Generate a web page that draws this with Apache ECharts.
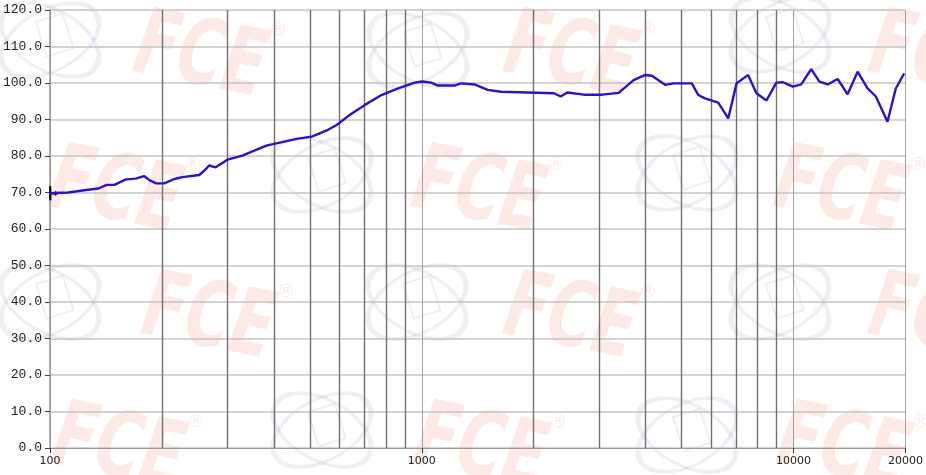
<!DOCTYPE html>
<html>
<head>
<meta charset="utf-8">
<script src="https://cdn.jsdelivr.net/npm/echarts@6/dist/echarts.min.js"></script>
<style>
html,body{margin:0;padding:0;background:#fff;}
#chart{width:926px;height:475px;}
</style>
</head>
<body>
<div id="chart"></div>
<script>
// Frequency (Hz) and SPL (dB)
const freqs = [100,112,125,135,142,149,160,170,179,185,193,203,216,227,252,260,268,279,300,329,357,384,421,461,506,555,590,635,703,779,864,957,1003,1060,1105,1224,1276,1385,1504,1633,1924,2268,2363,2463,2729,3056,3385,3712,3991,4159,4514,4753,5323,5544,5777,6271,6671,7025,7544,7945,8454,8989,9363,9957,10486,11154,11738,12353,13138,13975,14866,15809,16649,17886,18833,19826];
const spl = [69.8,70.0,70.7,71.1,72.1,72.1,73.6,73.8,74.5,73.4,72.5,72.5,73.7,74.2,74.8,76.0,77.4,76.9,79.0,80.1,81.6,82.9,83.8,84.7,85.3,87.0,88.5,91.0,94.0,96.7,98.5,100.1,100.4,100.1,99.3,99.3,99.9,99.6,98.1,97.6,97.4,97.2,96.3,97.4,96.8,96.8,97.3,100.8,102.2,102.0,99.5,99.9,99.9,96.7,95.8,94.6,90.3,99.9,102.2,97.2,95.2,100.1,100.2,99.0,99.6,103.8,100.4,99.6,101.1,96.9,103.1,98.5,96.3,89.4,98.5,102.6];
// Minor vertical grid frequencies
const minorFreqs = [200,300,400,500,600,700,800,900,2000,3000,4000,5000,6000,7000,8000,9000];
const xMin = 100, xMax = 20000;
const yMin = 0, yMax = 120, yStep = 10;

const chart = echarts.init(document.getElementById('chart'), null, {renderer:'canvas'});

// Decorative watermarks
const fcePos = [[200,60],[570,60],[935,60],[115,195],[478,195],[840,195],[208,322],[570,322],[935,322],[118,452],[480,452],[843,452]];
const atomPos = [[50,40],[418,50],[780,35],[322,175],[687,173],[50,302],[417,302],[780,302],[322,430],[687,435]];
const graphics = [];
atomPos.forEach(p => {
  [0.5,-0.5].forEach(r => {
    graphics.push({type:'circle', x:p[0], y:p[1], rotation:r, scaleX:1.4, scaleY:0.8, z:-5, silent:true,
      shape:{cx:0,cy:0,r:38}, style:{fill:'none', stroke:'rgba(110,120,175,0.12)', lineWidth:4}});
  });
  graphics.push({type:'rect', x:p[0]-14, y:p[1]-18, rotation:0.3, z:-5, silent:true,
    shape:{x:0,y:0,width:28,height:36}, style:{fill:'none', stroke:'rgba(110,120,175,0.12)', lineWidth:2}});
});
fcePos.forEach(p => {
  graphics.push({type:'text', x:p[0], y:p[1], rotation:-0.2, scaleX:0.68, z:-4, silent:true,
    style:{text:'FCE', font:'italic bold 92px "DejaVu Sans"', fill:'rgba(240,110,90,0.15)', textAlign:'center', textVerticalAlign:'middle'}});
  graphics.push({type:'text', x:p[0]+78, y:p[1]-30, z:-4, silent:true,
    style:{text:'®', font:'18px "DejaVu Sans"', fill:'rgba(240,110,90,0.15)', textAlign:'center', textVerticalAlign:'middle'}});
});

const option = {
  animation: false,
  backgroundColor: '#fff',
  graphic: graphics,
  grid: {left:47, right:20, top:10, bottom:27, containLabel:false},
  xAxis: {
    type:'log', logBase:10, min:xMin, max:xMax,
    axisLine:{show:true, lineStyle:{color:'#999', width:1}},
    axisTick:{show:true, length:5, lineStyle:{color:'#333'}},
    axisLabel:{color:'#222', fontFamily:'DejaVu Sans', fontSize:11, margin:8,
      formatter: v => String(Math.round(v)), showMinLabel:true, showMaxLabel:true},
    splitLine:{show:true, lineStyle:{color:'#a0a0a0', width:1}},
    minorTick:{show:false}
  },
  yAxis: {
    type:'value', min:yMin, max:yMax, interval:yStep,
    axisLine:{show:true, lineStyle:{color:'#999', width:1.5}},
    axisTick:{show:true, length:5, lineStyle:{color:'#444'}},
    axisLabel:{color:'#222', fontFamily:'Liberation Mono', fontSize:13, margin:8,
      formatter: v => v.toFixed(1)},
    splitLine:{show:true, lineStyle:{color:'#c4c4c4', width:1.5}}
  },
  series: [{
    type:'line',
    data: freqs.map((f,i) => [f, spl[i]]),
    showSymbol:false,
    symbol:'none',
    lineStyle:{color:'#3010c4', width:2.4},
    z:5,
    markLine:{
      silent:true, symbol:['none','none'], animation:false,
      label:{show:false},
      lineStyle:{color:'#707070', width:1.4, type:'solid'},
      data: minorFreqs.map(f => ({xAxis:f}))
    },
    markPoint:{
      silent:true, animation:false,
      data:[{coord:[freqs[0], spl[0]], symbol:'path://M0,0h2.4v14h-2.4z M2.4,6h4v2.2h-4z M6,4.5L10,7.1L6,9.7z',
        symbolSize:[10,14], symbolOffset:[4,0], symbolKeepAspect:false,
        itemStyle:{color:'#111'}, label:{show:false}}]
    }
  }]
};
chart.setOption(option);
</script>
</body>
</html>
